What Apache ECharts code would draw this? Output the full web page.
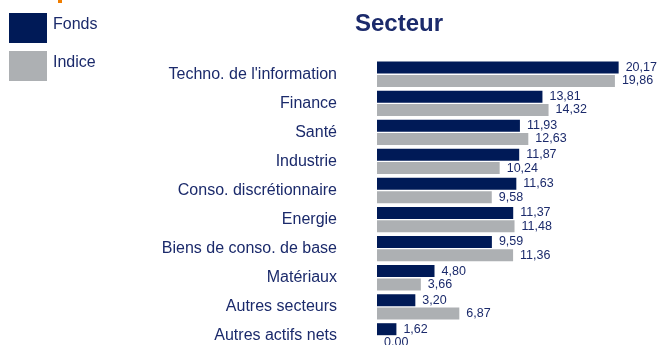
<!DOCTYPE html>
<html>
<head>
<meta charset="utf-8">
<script src="https://cdn.jsdelivr.net/npm/echarts@6/dist/echarts.min.js"></script>
<style>
  html, body { margin: 0; padding: 0; background: #ffffff; overflow: hidden; }
  /* the last row runs past the bottom edge of the 345px viewport */
  #chart { width: 659px; height: 360px; }
</style>
</head>
<body>
<div id="chart"></div>
<script>
// Sector allocation: fund vs. index weights (%)
const categories = [
  "Techno. de l'information",
  "Finance",
  "Santé",
  "Industrie",
  "Conso. discrétionnaire",
  "Energie",
  "Biens de conso. de base",
  "Matériaux",
  "Autres secteurs",
  "Autres actifs nets"
];
const fondsValues = [20.17, 13.81, 11.93, 11.87, 11.63, 11.37, 9.59, 4.80, 3.20, 1.62];
const indiceValues = [19.86, 14.32, 12.63, 10.24, 9.58, 11.48, 11.36, 3.66, 6.87, 0.00];
const seriesNames = ["Fonds", "Indice"];

const NAVY = '#001a57';
const GREY = '#adb0b3';
const TEXT = '#1b2a6b';
const FONT = '"Liberation Sans", Arial, sans-serif';

const fmt = v => Number(v).toFixed(2).replace('.', ',');

const chart = echarts.init(document.getElementById('chart'), null, { renderer: 'canvas' });

const valueLabel = {
  show: true,
  position: 'right',
  distance: 7,
  color: TEXT,
  fontFamily: FONT,
  fontSize: 12.5,
  formatter: p => fmt(p.value)
};

chart.setOption({
  animation: false,
  backgroundColor: '#ffffff',
  title: {
    text: 'Secteur',
    left: 355,
    top: 12,
    padding: 0,
    textStyle: { color: TEXT, fontFamily: FONT, fontWeight: 'bold', fontSize: 24 }
  },
  legend: {
    orient: 'vertical',
    left: 9,
    top: 13,
    padding: 0,
    itemWidth: 38,
    itemHeight: 30,
    itemGap: 8,
    icon: 'rect',
    data: seriesNames,
    formatter: '{t|{name}}',
    textStyle: {
      rich: {
        t: {
          color: TEXT,
          fontFamily: FONT,
          fontSize: 16,
          padding: [0, 0, 7, 1]
        }
      }
    }
  },
  grid: {
    left: 377,
    top: 59.7,
    width: 23 * 11.98,
    height: 290.7,
    containLabel: false
  },
  xAxis: {
    type: 'value',
    min: 0,
    max: 23,
    show: false
  },
  yAxis: {
    type: 'category',
    data: categories,
    inverse: true,
    axisLine: { show: false },
    axisTick: { show: false },
    splitLine: { show: false },
    axisLabel: {
      color: TEXT,
      fontFamily: FONT,
      fontSize: 16,
      margin: 40
    }
  },
  graphic: [
    { type: 'rect', left: 58, top: 0, shape: { width: 4, height: 3 }, style: { fill: '#f07d00' } }
  ],
  series: [
    {
      name: seriesNames[0],
      type: 'bar',
      data: fondsValues,
      barWidth: 12,
      barGap: '11%',
      itemStyle: { color: NAVY },
      label: valueLabel
    },
    {
      name: seriesNames[1],
      type: 'bar',
      data: indiceValues,
      barWidth: 12,
      barGap: '11%',
      itemStyle: { color: GREY },
      label: valueLabel
    }
  ]
});
</script>
</body>
</html>
